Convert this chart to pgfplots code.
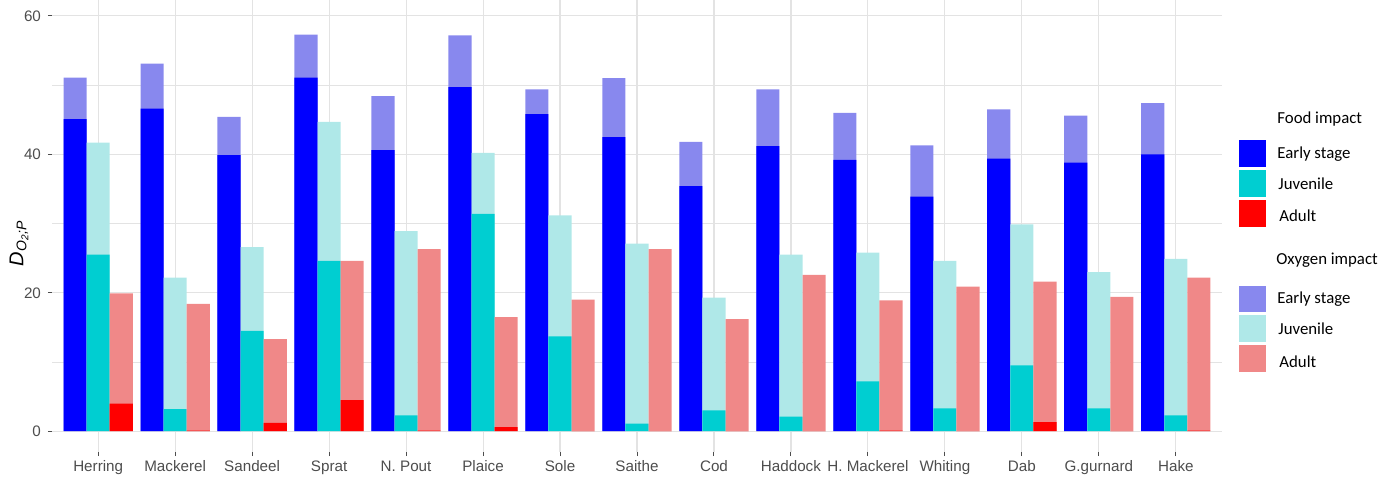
\documentclass[border=0pt]{standalone}
\usepackage{pgfplots}
\pgfplotsset{compat=1.18}
\usepackage{pgfplotstable}
\usepackage{fontspec}
\setmainfont{Liberation Sans}
\newfontfamily\legfont{Carlito}
\definecolor{earlyF}{HTML}{0000FF}
\definecolor{juvF}{HTML}{00CED1}
\definecolor{adF}{HTML}{FF0000}
\definecolor{earlyO}{HTML}{8888EE}
\definecolor{juvO}{HTML}{AFE8E8}
\definecolor{adO}{HTML}{F08888}
\definecolor{gridc}{HTML}{E3E3E3}
\definecolor{tickc}{HTML}{4D4D4D}

\pgfplotstableread{
idx etot efood jtot jfood atot afood
0  51.1 45.1 41.7 25.5 19.9 4.0
1  53.1 46.6 22.2 3.2  18.4 0.1
2  45.4 39.9 26.6 14.5 13.3 1.2
3  57.3 51.1 44.7 24.6 24.6 4.5
4  48.4 40.6 28.9 2.3  26.3 0.1
5  57.2 49.7 40.2 31.4 16.5 0.6
6  49.4 45.8 31.2 13.7 19.0 0.0
7  51.0 42.5 27.1 1.1  26.3 0.0
8  41.8 35.4 19.3 3.0  16.2 0.0
9  49.4 41.2 25.5 2.1  22.6 0.0
10 46.0 39.2 25.8 7.2  18.9 0.1
11 41.3 33.9 24.6 3.3  20.9 0.0
12 46.5 39.4 29.9 9.5  21.6 1.3
13 45.6 38.8 23.0 3.3  19.4 0.0
14 47.4 40.0 24.9 2.3  22.2 0.1
}\datatable

\begin{document}
\begin{tikzpicture}
\useasboundingbox (0,0) rectangle (698.5pt,238.5pt);
\begin{axis}[
  at={(26pt,12.5pt)}, anchor=south west,
  scale only axis, width=585pt, height=226pt,
  xmin=-0.6, xmax=14.6, ymin=-3, ymax=62.3,
  axis line style={draw=none},
  xtick={0,...,14},
  xticklabels={Herring,Mackerel,Sandeel,Sprat,N. Pout,Plaice,Sole,Saithe,Cod,Haddock,H. Mackerel,Whiting,Dab,G.gurnard,Hake},
  ytick={0,20,40,60},
  minor ytick={10,30,50},
  grid=both,
  major grid style={gridc, line width=0.55pt},
  minor grid style={gridc, line width=0.3pt},
  tick style={tickc, line width=0.5pt},
  major tick length=2pt, minor tick length=0pt,
  tick align=outside,
  xtick pos=bottom, ytick pos=left,
  ticklabel style={font=\fontsize{7.6}{9}\selectfont, text=tickc},
  /pgf/number format/assume math mode=true,
  xticklabel style={yshift=1.2pt},
  ylabel={\itshape D\textsubscript{O\textsubscript{2};P}},
  ylabel style={font=\fontsize{9.5}{11}\selectfont},
  every axis y label/.style={at={(axis description cs:-0.0282,0.462)}, rotate=90, anchor=center},
  clip=false,
]
\addplot[ybar, bar width=0.3, bar shift=-0.3, fill=earlyO, draw=none] table[x=idx,y=etot]{\datatable};
\addplot[ybar, bar width=0.3, bar shift=-0.3, fill=earlyF, draw=none] table[x=idx,y=efood]{\datatable};
\addplot[ybar, bar width=0.3, bar shift=0, fill=juvO, draw=none] table[x=idx,y=jtot]{\datatable};
\addplot[ybar, bar width=0.3, bar shift=0, fill=juvF, draw=none] table[x=idx,y=jfood]{\datatable};
\addplot[ybar, bar width=0.3, bar shift=0.3, fill=adO, draw=none] table[x=idx,y=atot]{\datatable};
\addplot[ybar, bar width=0.3, bar shift=0.3, fill=adF, draw=none] table[x=idx,y=afood]{\datatable};
\end{axis}
\begin{scope}[yshift=238.5pt, x=0.5pt, y=-0.5pt, font=\legfont\fontsize{8.4}{10}\selectfont]
  \node[anchor=west, inner sep=0] at (1277,119) {Food impact};
  \fill[earlyF] (1239,140) rectangle (1266,167);
  \fill[juvF] (1239,170) rectangle (1266,197);
  \fill[adF] (1239,200) rectangle (1266,227);
  \node[anchor=west, inner sep=0] at (1277,154) {Early stage};
  \node[anchor=west, inner sep=0] at (1278,184) {Juvenile};
  \node[anchor=west, inner sep=0] at (1279,216) {Adult};
  \node[anchor=west, inner sep=0] at (1276,260) {Oxygen impact};
  \fill[earlyO] (1239,286) rectangle (1266,312);
  \fill[juvO] (1239,315) rectangle (1266,342);
  \fill[adO] (1239,345) rectangle (1266,372);
  \node[anchor=west, inner sep=0] at (1277,299) {Early stage};
  \node[anchor=west, inner sep=0] at (1278,329) {Juvenile};
  \node[anchor=west, inner sep=0] at (1279,362) {Adult};
\end{scope}
\end{tikzpicture}
\end{document}
